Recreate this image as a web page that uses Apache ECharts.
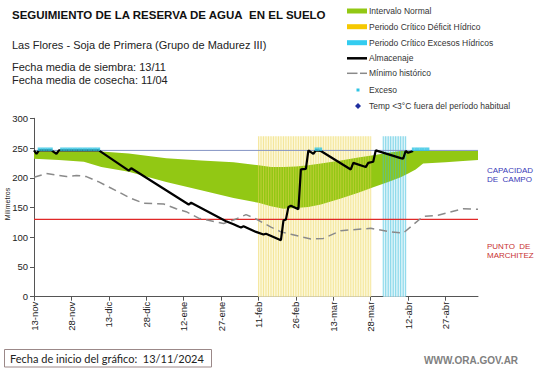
<!DOCTYPE html>
<html><head><meta charset="utf-8">
<script src="https://cdn.jsdelivr.net/npm/echarts@6/dist/echarts.min.js"></script>
<style>html,body{margin:0;padding:0;background:#fff}#c{width:541px;height:368px}</style>
</head><body><div id="c"></div>
<script>
// ---- data ----
const tickLabels = ['13-nov','28-nov','13-dic','28-dic','12-ene','27-ene','11-feb','26-feb','13-mar','28-mar','12-abr','27-abr'];
const lastDay = 178; // days since 13/11/2024 shown on the axis
const capacidadCampo = 246;
const puntoMarchitez = 130;
const stripeTop = 270;

const bandDays  = [0,10,20,27,38,53,67,80,90,95,100,105,110,115,123,130,136,142,147,150,153,156,165,172,178];
const bandUpper = [244,244,244,244,241,233,229,226,221,218,218,219,221,224,229,234,238,242,245,245,245,245,245,245,245];
const bandLower = [232,230,227,218,210,193,179,166,158,152,148,149,151,155,165,175,184,193,201,207,214,224,226,228,230];

const almDays = [0,1,2,7,9,10,26,38,39,62,63,77,80,82,83,84,89,92,93,99,100,101,102,103,106,107,109,110,112,113,115,127,128,133,134,136,137,147,148,149,150,152];
const almVals = [246,240,246,246,240,246,246,212,216,155,158,127,122,118,116.5,118.5,109,104.5,106,95,128,130,151,153,147,214,215,246,240,246,245,214,225,218,225,227,246,233,232,245,242,245];

const minDays = [0,5,13,17,21,26,34,38,44,52,57,61,66,76,80,85,88,95,99,103,111,116,123,135,143,148,156,162,172,178];
const minVals = [201,207,202,204,202,193,176,167,157,156,148,143,132,123,129,138,133,117,109,105,97,98,111,115,109,107,135,137,148,147];

const deficitDays = [90,91,92,93,94,95,96,97,98,99,100,101,102,103,104,105,106,107,108,109,110,111,112,113,114,115,116,117,118,119,120,121,122,123,124,125,126,127,128,129,130,131,132,133,134,135];
const excesosDays = [140,141,142,143,144,145,146,147,148,149];

const excesoDays = [2,3,4,5,6,7,11,12,13,14,15,16,17,18,19,20,21,22,23,24,25,26,113,114,115,152,153,154,155,156,157,158];
const excesoLevel = 248;

// ---- build ----
const days = [];
for (let i = 0; i <= lastDay; i++) days.push(String(i));
const zip = (a, b) => a.map((d, i) => [d, b[i]]);

const FONT = "'Liberation Sans', Arial, sans-serif";
const chart = echarts.init(document.getElementById('c'), null, {renderer: 'svg'});

function txt(x, y, text, font, fill, extra) {
  return Object.assign({
    type: 'text', x: x, y: y, silent: true,
    style: {text: text, font: font, fill: fill, textAlign: 'left', textVerticalAlign: 'middle', align: 'left', verticalAlign: 'middle'}
  }, extra || {});
}

const graphics = [
  txt(12, 15, 'SEGUIMIENTO DE LA RESERVA DE AGUA\u00a0 EN EL SUELO', 'bold 11.5px ' + FONT, '#111'),
  txt(12, 45, 'Las Flores - Soja de Primera (Grupo de Madurez III)', '11px ' + FONT, '#222'),
  txt(12, 67, 'Fecha media de siembra: 13/11', '11px ' + FONT, '#222'),
  txt(12, 80, 'Fecha media de cosecha: 11/04', '11px ' + FONT, '#222'),
  // legend
  {type: 'rect', shape: {x: 347, y: 8.5, width: 20, height: 5}, style: {fill: '#92c814'}, silent: true},
  txt(369, 11, 'Intervalo Normal', '8.5px ' + FONT, '#333'),
  {type: 'rect', shape: {x: 347, y: 24.2, width: 20, height: 5}, style: {fill: '#f5c800'}, silent: true},
  txt(369, 26.7, 'Periodo Crítico Déficit Hídrico', '8.5px ' + FONT, '#333'),
  {type: 'rect', shape: {x: 347, y: 40.2, width: 20, height: 5}, style: {fill: '#33ccf0'}, silent: true},
  txt(369, 42.7, 'Periodo Crítico Excesos Hídricos', '8.5px ' + FONT, '#333'),
  {type: 'line', shape: {x1: 347, y1: 58.3, x2: 367, y2: 58.3}, style: {stroke: '#000', lineWidth: 2.5}, silent: true},
  txt(369, 58.3, 'Almacenaje', '8.5px ' + FONT, '#333'),
  {type: 'line', shape: {x1: 347, y1: 73.3, x2: 357.5, y2: 73.3}, style: {stroke: '#8a8a8a', lineWidth: 1.5}, silent: true},
  {type: 'line', shape: {x1: 360, y1: 73.3, x2: 367, y2: 73.3}, style: {stroke: '#8a8a8a', lineWidth: 1.5}, silent: true},
  txt(369, 73.3, 'Mínimo histórico', '8.5px ' + FONT, '#333'),
  {type: 'rect', shape: {x: 356.5, y: 88.5, width: 3, height: 3}, style: {fill: '#2fc4e4'}, silent: true},
  txt(369, 90, 'Exceso', '8.5px ' + FONT, '#333'),
  {type: 'polygon', shape: {points: [[358, 103], [361, 106], [358, 109], [355, 106]]}, style: {fill: '#1f2f9f'}, silent: true},
  txt(369, 106, 'Temp <3°C fuera del período habitual', '8.5px ' + FONT, '#333'),
  // right labels
  txt(487, 170.3, 'CAPACIDAD', '8px ' + FONT, '#3a3ab8'),
  txt(487, 179.7, 'DE\u00a0 CAMPO', '8px ' + FONT, '#3a3ab8'),
  txt(487, 246.7, 'PUNTO\u00a0 DE', '8px ' + FONT, '#c83232'),
  txt(487, 255.3, 'MARCHITEZ', '8px ' + FONT, '#c83232'),
  // y axis name
  {type: 'text', x: 7, y: 204, rotation: Math.PI / 2, silent: true,
   style: {text: 'Milímetros', font: '7px ' + FONT, fill: '#222', textAlign: 'center', textVerticalAlign: 'middle', align: 'center', verticalAlign: 'middle'}},
  // bottom
  {type: 'rect', shape: {x: 4.5, y: 349.5, width: 207, height: 17.5}, style: {fill: '#fff', stroke: '#9b8888', lineWidth: 1}, silent: true},
  txt(10, 358.5, 'Fecha de inicio del gráfico:\u00a0 13/11/2024', '11px Lato, ' + FONT, '#222'),
  txt(424, 360.7, 'WWW.ORA.GOV.AR', 'bold 10px ' + FONT, '#808080')
];

const option = {
  animation: false,
  grid: {left: 34, right: 63, top: 118.3, bottom: 71.3},
  xAxis: {
    type: 'category', data: days, boundaryGap: false,
    axisLine: {lineStyle: {color: '#555', width: 1}},
    axisTick: {show: true, length: 4, interval: (i) => i % 15 === 0, lineStyle: {color: '#555'}},
    axisLabel: {
      rotate: 90, fontSize: 9.5, fontFamily: FONT, color: '#222', margin: 5,
      interval: (i) => i % 15 === 0,
      formatter: (v, i) => (i % 15 === 0 && tickLabels[i / 15]) ? tickLabels[i / 15] : ''
    },
    splitLine: {show: false}
  },
  yAxis: {
    type: 'value', min: 0, max: 300, interval: 50,
    axisLine: {show: true, lineStyle: {color: '#555'}},
    axisTick: {show: true, length: 4, lineStyle: {color: '#555'}},
    axisLabel: {fontSize: 9.5, fontFamily: FONT, color: '#222', margin: 6},
    splitLine: {show: false}
  },
  graphic: graphics,
  series: [
    {
      name: 'bandLower', type: 'line', stack: 'band', z: 1, symbol: 'none', silent: true,
      data: zip(bandDays, bandLower),
      lineStyle: {width: 0, opacity: 0}, areaStyle: {opacity: 0},
      markArea: {
        silent: true,
        data: [
          [{xAxis: deficitDays[0], yAxis: 0, itemStyle: {color: '#fcf8d8'}}, {xAxis: deficitDays[deficitDays.length - 1], yAxis: stripeTop}],
          [{xAxis: excesosDays[0], yAxis: 0, itemStyle: {color: '#e0f5fa'}}, {xAxis: excesosDays[excesosDays.length - 1], yAxis: stripeTop}]
        ]
      }
    },
    {
      name: 'Intervalo Normal', type: 'line', stack: 'band', z: 2, symbol: 'none', silent: true,
      data: bandDays.map((d, i) => [d, bandUpper[i] - bandLower[i]]),
      lineStyle: {width: 0, opacity: 0}, areaStyle: {color: '#92c814', opacity: 1}
    },
    {
      name: 'Periodo Crítico Déficit Hídrico', type: 'bar', z: 3, silent: true, barWidth: 1, barGap: '-100%',
      data: deficitDays.map(d => [d, stripeTop]),
      itemStyle: {color: 'rgba(238,212,90,0.5)'}
    },
    {
      name: 'Periodo Crítico Excesos Hídricos', type: 'bar', z: 3, silent: true, barWidth: 1, barGap: '-100%',
      data: excesosDays.map(d => [d, stripeTop]),
      itemStyle: {color: 'rgba(60,190,220,0.6)'}
    },
    {
      name: 'capacidad', type: 'line', z: 4, symbol: 'none', silent: true,
      data: [[0, capacidadCampo], [lastDay, capacidadCampo]],
      lineStyle: {color: '#8494c4', width: 1},
      itemStyle: {color: '#8494c4'}
    },
    {
      name: 'marchitez', type: 'line', z: 4, symbol: 'none', silent: true,
      data: [[0, puntoMarchitez], [lastDay, puntoMarchitez]],
      lineStyle: {color: '#e02828', width: 1.3},
      itemStyle: {color: '#e02828'}
    },
    {
      name: 'Mínimo histórico', type: 'line', z: 4, symbol: 'none', silent: true,
      data: zip(minDays, minVals),
      lineStyle: {color: '#8a8a8a', width: 1.5, type: [8, 5]}
    },
    {
      name: 'Almacenaje', type: 'line', z: 5, symbol: 'none', silent: true,
      data: zip(almDays, almVals),
      lineStyle: {color: '#000', width: 2.2}
    },
    {
      name: 'Exceso', type: 'scatter', z: 6, silent: true, symbol: 'rect', symbolSize: [2.6, 3.5],
      data: excesoDays.map(d => [d, excesoLevel]),
      itemStyle: {color: '#2fc4e4'}
    }
  ]
};
chart.setOption(option);
</script></body></html>
